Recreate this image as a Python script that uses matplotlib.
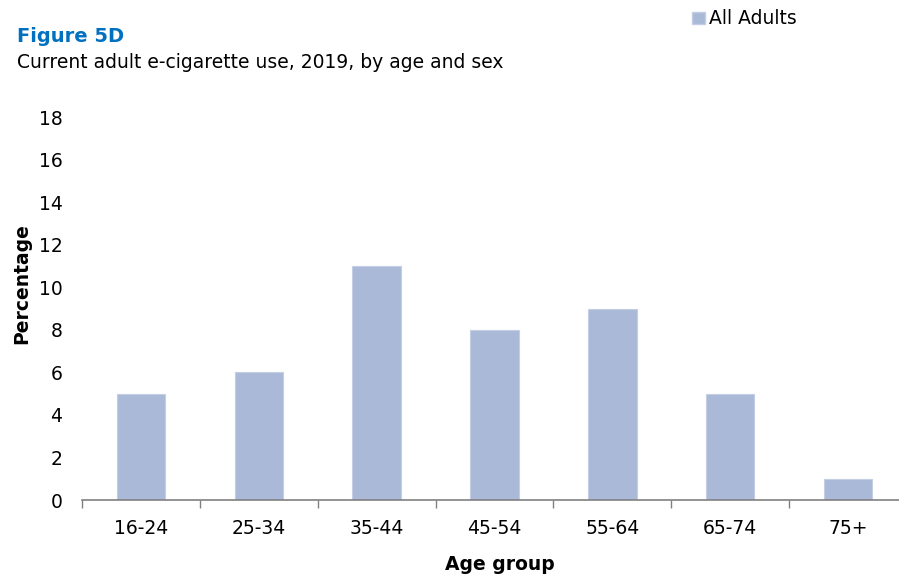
import matplotlib
matplotlib.use("Agg")
import matplotlib.pyplot as plt
from matplotlib.patches import Patch
import numpy as np

categories = ["16-24", "25-34", "35-44", "45-54", "55-64", "65-74", "75+"]
all_adults = [5, 6, 11, 8, 9, 5, 1]
y_ticks = [0, 2, 4, 6, 8, 10, 12, 14, 16, 18]

plt.rcParams['font.family'] = ['DejaVu Sans']
bar_color = "#AAB9D7"
edge_color = "#C3CEE5"
fs = 13.5

fig = plt.figure(figsize=(8.99, 5.76), dpi=100)
ax = fig.add_axes([82/899, 1-500/576, (907-82)/899, (500-117)/576])

x = np.arange(len(categories))
ax.bar(x, all_adults, width=0.41, color=bar_color, edgecolor=edge_color, linewidth=0.8, zorder=2)

ax.set_xlim(-0.5, len(categories) - 0.5)
ax.set_ylim(0, 18)
ax.set_yticks(y_ticks)
ax.set_yticklabels([str(v) for v in y_ticks], fontsize=fs)
ax.tick_params(axis='y', length=0, pad=14)

ax.set_xticks(x)
ax.set_xticklabels(categories, fontsize=fs)
ax.tick_params(axis='x', which='major', length=0, pad=14)
ax.set_xticks(np.arange(-0.5, len(categories), 1.0), minor=True)
ax.tick_params(axis='x', which='minor', length=6, width=1, color="#808080", direction='out')

for s in ['top', 'right', 'left']:
    ax.spines[s].set_visible(False)
ax.spines['bottom'].set_color("#808080")
ax.spines['bottom'].set_linewidth(1.2)
ax.spines['bottom'].set_zorder(3)

fig.text(500/899, 1-564/576, "Age group", ha='center', va='center', fontsize=fs, fontweight='bold')
fig.text(22/899, 1-284/576, "Percentage", ha='center', va='center', rotation=90, fontsize=fs, fontweight='bold')

fig.text(17/899, 1-37/576, "Figure 5D", ha='left', va='center', fontsize=14, fontweight='bold', color="#0070C0")
fig.text(17/899, 1-63/576, "Current adult e-cigarette use, 2019, by age and sex", ha='left', va='center', fontsize=fs)

fig.legend(handles=[Patch(facecolor=bar_color, edgecolor=edge_color, label="All Adults")],
           loc='center left', bbox_to_anchor=(683/899, 1-19/576), frameon=False,
           fontsize=fs, handlelength=0.65, handleheight=0.65, handletextpad=0.25, borderpad=0)

fig.savefig("out.png", dpi=100)
